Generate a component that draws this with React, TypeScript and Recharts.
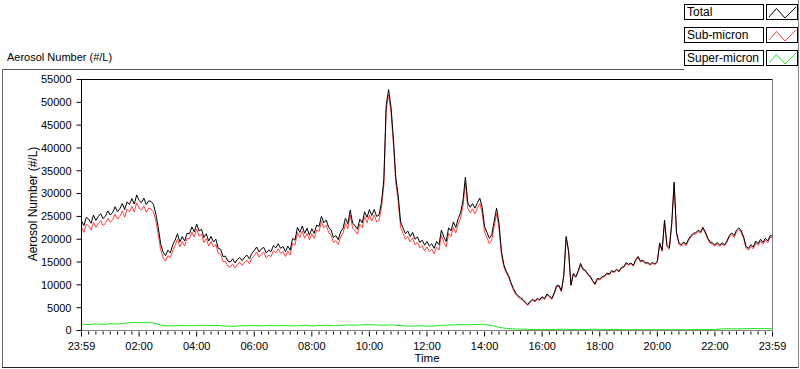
import { LineChart, Line, XAxis, YAxis, ReferenceLine } from 'recharts';

const seriesNames = ['Total', 'Sub-micron', 'Super-micron'];
const seriesColors = ['#000000', '#ff4040', '#1ee81e'];

// values every 5 minutes, starting 23:59
const totalValues = [
  24000, 23000, 24800, 24400, 23500, 25300, 24100, 25000, 25600, 24500, 25100, 26200,
  25300, 25900, 27100, 26000, 26700, 27800, 26500, 28200, 27600, 28900, 27700, 29700,
  28500, 28000, 29000, 27600, 28400, 28300, 27600, 25500, 22500, 19000, 17200, 16400,
  17600, 17000, 18700, 19800, 21200, 19400, 20600, 19600, 21300, 21200, 22700, 21600,
  23300, 21800, 22200, 20400, 21200, 19600, 20600, 19400, 20000, 18000, 17800, 16200,
  16300, 15200, 15000, 15700, 14800, 15600, 16000, 15300, 16100, 16500, 15700, 16900,
  17500, 18300, 17200, 17900, 18200, 17000, 17600, 17300, 18600, 18100, 19000, 18000,
  18400, 17300, 18500, 17600, 20200, 19800, 22600, 21500, 22900, 21300, 22400, 20900,
  22300, 21300, 23100, 22800, 25000, 23600, 24200, 22600, 22000, 20400, 20800, 19900,
  21600, 22400, 24600, 23400, 26400, 23500, 23000, 22200, 24400, 23600, 26000, 24800,
  26500, 25200, 26500, 25000, 25300, 28000, 33000, 49500, 52800, 49000, 42000, 33500,
  29500, 23800, 22500, 21200, 21800, 20600, 21500, 20000, 20500, 19300, 19800, 18700,
  19500, 18500, 19000, 18000, 19500, 18800, 22000, 20500, 19500, 22500, 21800, 23800,
  22600, 24500, 25800, 28500, 33600, 28000, 27000, 27800, 26800, 28000, 29000, 27000,
  22800, 21500, 20200, 21000, 24000, 26800, 23500, 17500, 14500, 13000, 12000, 10500,
  9200, 8200, 7600, 7200, 6800, 6200, 5700, 6400, 6800, 6500, 7000, 6800,
  7400, 7000, 8000, 7600, 7000, 8200, 9800, 9900, 8700, 12000, 20600, 17500,
  10000, 12500, 11800, 13000, 14700, 13500, 13200, 12400, 11900, 11000, 10200, 11400,
  11300, 11800, 12000, 12600, 12400, 13100, 12900, 13400, 13000, 13800, 14000, 14900,
  14500, 14800, 14300, 15500, 16200, 15200, 15400, 14800, 14900, 14500, 14900, 14600,
  15200, 19200, 17600, 24200, 18700, 18100, 23500, 32500, 21500, 19200, 18800, 19400,
  18900, 20000, 20800, 21300, 21400, 22000, 21600, 22600, 21600, 20300, 19400, 19200,
  18800, 19300, 18700, 19200, 18800, 19600, 20800, 21400, 20800, 22000, 22500, 21800,
  20500, 18400, 18000, 18800, 18300, 19600, 19000, 20000, 19300, 20200, 19600, 20800,
  20700,
];

const subValues = [
  22600, 21500, 23300, 22900, 22000, 23700, 22600, 23400, 24100, 23000, 23500, 24600,
  23700, 24300, 25500, 24400, 25000, 26200, 24800, 26600, 26000, 27200, 26000, 28000,
  26800, 26400, 27300, 25900, 26800, 26600, 26000, 24000, 21000, 17700, 16000, 15200,
  16400, 15900, 17500, 18600, 20000, 18300, 19500, 18500, 20200, 20100, 21600, 20500,
  22200, 20700, 21100, 19300, 20100, 18500, 19500, 18300, 18900, 16900, 16700, 15100,
  15200, 14100, 13900, 14600, 13700, 14500, 14900, 14200, 15000, 15400, 14600, 15800,
  16400, 17200, 16100, 16800, 17100, 15900, 16500, 16200, 17500, 17000, 17900, 16900,
  17300, 16200, 17400, 16500, 19100, 18700, 21500, 20400, 21800, 20200, 21300, 19800,
  21200, 20200, 22000, 21700, 23900, 22500, 23100, 21500, 20900, 19300, 19700, 18800,
  20500, 21300, 23500, 22300, 25300, 22400, 21900, 21100, 23300, 22500, 24900, 23600,
  25300, 24000, 25300, 23800, 24100, 26800, 31800, 48300, 51600, 47800, 40800, 32300,
  28300, 22600, 21300, 20000, 20600, 19400, 20300, 18800, 19300, 18100, 18600, 17500,
  18300, 17300, 17800, 16800, 18300, 17600, 20800, 19300, 18300, 21300, 20600, 22600,
  21400, 23300, 24600, 27300, 32400, 26800, 25800, 26600, 25600, 26800, 27800, 25800,
  21600, 20300, 19000, 19800, 22800, 25600, 22400, 16700, 14000, 12600, 11700, 10200,
  8900, 7900, 7300, 6900, 6600, 6000, 5500, 6200, 6600, 6300, 6800, 6600,
  7200, 6800, 7800, 7400, 6800, 8000, 9600, 9700, 8500, 11800, 20300, 17200,
  9800, 12300, 11600, 12800, 14400, 13300, 13000, 12200, 11700, 10800, 10000, 11200,
  11100, 11600, 11800, 12400, 12200, 12900, 12700, 13200, 12800, 13600, 13800, 14600,
  14300, 14600, 14100, 15300, 15900, 15000, 15200, 14600, 14700, 14300, 14700, 14400,
  15000, 18900, 17300, 23800, 18400, 17800, 23100, 32000, 21200, 18900, 18500, 19100,
  18600, 19700, 20500, 21000, 21100, 21700, 21300, 22300, 21300, 20000, 19100, 18900,
  18500, 19000, 18400, 18900, 18500, 19300, 20500, 21000, 20400, 21600, 22100, 21400,
  20100, 18000, 17600, 18400, 17900, 19200, 18600, 19600, 18900, 19800, 19200, 20400,
  20300,
];

// values every 15 minutes
const superValues = [
  1400, 1300, 1450, 1350, 1500, 1400, 1600, 1750, 1700, 1750, 1650, 1200,
  1000, 1050, 1100, 1050, 1100, 1150, 1100, 1100, 950, 900, 1000, 1050,
  1100, 1000, 1100, 1050, 1100, 1000, 1050, 1100, 1000, 1100, 1150, 1050,
  1100, 1200, 1150, 1250, 1300, 1200, 1150, 1250, 1100, 1000, 950, 1050,
  950, 1000, 1100, 1200, 1250, 1300, 1250, 1350, 1300, 1100, 700, 450,
  350, 300, 250, 200, 250, 200, 250, 300, 200, 250, 200, 300,
  250, 200, 250, 200, 150, 200, 150, 200, 150, 200, 150, 200,
  150, 200, 250, 200, 250, 350, 400, 350, 400, 450, 400, 450,
  400,
];

const yTicks = [0, 5000, 10000, 15000, 20000, 25000, 30000, 35000, 40000, 45000, 50000, 55000];
const xTickLabels = ['23:59', '02:00', '04:00', '06:00', '08:00', '10:00', '12:00', '14:00', '16:00', '18:00', '20:00', '22:00', '23:59'];

const data = totalValues.map((t, i) => ({
  m: i * 5,
  total: t,
  sub: subValues[i],
  sup: i % 3 === 0 ? superValues[i / 3] : null,
}));

const xTicks = Array.from({ length: 97 }, (_, k) => k * 15);

const font = "'Liberation Sans', Arial, sans-serif";

const TimeTick = ({ x, y, payload }: any) => {
  const k = Math.round(payload.value / 15);
  const major = k % 8 === 0;
  return (
    <g>
      <line x1={x} x2={x} y1={y + 1} y2={y + (major ? 6 : 4)} stroke="#000" />
      {major && (
        <text x={x} y={y + 19} textAnchor="middle" fill="#000" fontSize={11} fontFamily={font}>
          {xTickLabels[k / 8]}
        </text>
      )}
    </g>
  );
};

const Legend = () => (
  <>
    {seriesNames.map((name, i) => (
      <div key={name}>
        <div style={{
          position: 'absolute', left: 684, top: 4 + i * 23, width: 80, height: 16,
          boxSizing: 'border-box', border: '1px solid #000', background: '#fff',
          fontSize: 12, lineHeight: '14px', paddingLeft: 2, color: '#000',
        }}>{name}</div>
        <div style={{
          position: 'absolute', left: 766, top: 4 + i * 23, width: 32, height: 16,
          boxSizing: 'border-box', border: '1px solid #000', background: '#fff',
        }}>
          <svg width={30} height={14} style={{ display: 'block' }}>
            <polyline points="2,12 9.5,3.5 18,13 29,2" fill="none" stroke={seriesColors[i]} strokeWidth={1} />
          </svg>
        </div>
      </div>
    ))}
  </>
);

export default function App() {
  return (
    <div style={{ position: 'absolute', left: 0, top: 0, width: 800, height: 369, background: '#fff', fontFamily: font, overflow: 'hidden' }}>
      {/* outer panel frame */}
      <div style={{ position: 'absolute', left: 2, top: 69, width: 682, height: 1, background: '#555' }} />
      <div style={{ position: 'absolute', left: 2, top: 69, width: 1, height: 299, background: '#666' }} />
      <div style={{ position: 'absolute', left: 2, top: 367, width: 797, height: 1, background: '#222' }} />
      <div style={{ position: 'absolute', left: 798, top: 0, width: 1, height: 368, background: '#888' }} />

      <div style={{ position: 'absolute', left: 7, top: 51, fontSize: 11, color: '#000', whiteSpace: 'nowrap' }}>
        Aerosol Number (#/L)
      </div>
      <div style={{
        position: 'absolute', left: 33 - 70, top: 204 - 7, width: 140, height: 14,
        textAlign: 'center', fontSize: 12, lineHeight: '14px', color: '#000',
        transform: 'rotate(-90deg)', whiteSpace: 'nowrap',
      }}>
        Aerosol Number (#/L)
      </div>
      <div style={{ position: 'absolute', left: 407, top: 352, width: 40, textAlign: 'center', fontSize: 11.5, color: '#000' }}>
        Time
      </div>

      <div style={{ position: 'absolute', left: 0, top: 0 }}>
        <LineChart width={800} height={369} data={data} margin={{ top: 79.5, right: 27.5, bottom: 0, left: 0.5 }}>
          <XAxis
            dataKey="m"
            type="number"
            domain={[0, 1440]}
            ticks={xTicks}
            interval={0}
            tickLine={false}
            tickSize={0}
            tickMargin={0}
            height={38.5}
            axisLine={{ stroke: '#7f7f7f' }}
            tick={<TimeTick />}
          />
          <YAxis
            type="number"
            domain={[0, 55000]}
            ticks={yTicks}
            interval={0}
            width={81}
            tickSize={5}
            tickMargin={5}
            axisLine={{ stroke: '#000' }}
            tickLine={{ stroke: '#000' }}
            tick={{ fill: '#000', fontSize: 11, fontFamily: font }}
          />
          <ReferenceLine y={55000} stroke="#000" />
          <ReferenceLine x={1440} stroke="#7f7f7f" />
          <Line type="linear" dataKey="sub" name={seriesNames[1]} stroke={seriesColors[1]} strokeWidth={1} dot={false} isAnimationActive={false} />
          <Line type="linear" dataKey="total" name={seriesNames[0]} stroke={seriesColors[0]} strokeWidth={1} dot={false} isAnimationActive={false} />
          <Line type="linear" dataKey="sup" name={seriesNames[2]} stroke={seriesColors[2]} strokeWidth={1} dot={false} connectNulls isAnimationActive={false} />
        </LineChart>
      </div>

      <Legend />
    </div>
  );
}
